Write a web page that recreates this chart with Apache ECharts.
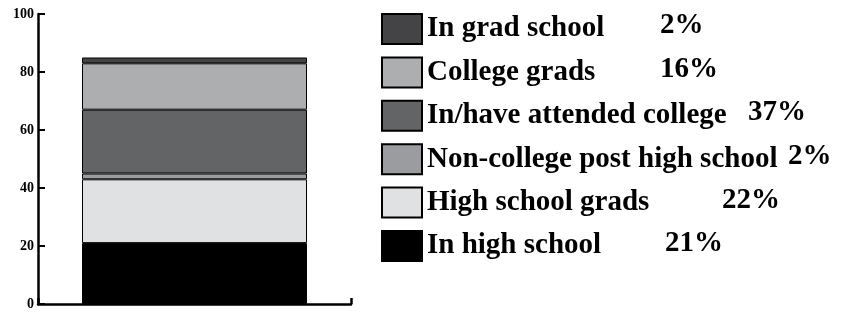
<!DOCTYPE html>
<html>
<head>
<meta charset="utf-8">
<script src="https://cdn.jsdelivr.net/npm/echarts@6/dist/echarts.min.js"></script>
<style>
  html, body { margin: 0; padding: 0; background: #fff; }
  #chart { width: 843px; height: 312px; }
</style>
</head>
<body>
<div id="chart"></div>
<script>
// stack order, bottom to top
const groups = ["In high school", "High school grads", "Non-college post high school",
  "In/have attended college", "College grads", "In grad school"];
const barValues = [21, 22, 2, 22, 16, 2];
// percentages printed next to the legend (as in the original, not the bar heights)
const legendPct = [21, 22, 2, 37, 16, 2];
const fills = ["#000000", "#e0e1e3", "#9b9c9f", "#636466", "#adaeb0", "#444446"];
const yTicks = [0, 20, 40, 60, 80, 100];

const FONT = "'Liberation Serif', 'Times New Roman', Times, serif";

let chart = echarts.init(document.getElementById("chart"));

// x of each percent text, legend order (top to bottom)
const pctX = [660, 660, 748, 788, 722, 665];
const rowTop = 13, rowStep = 43.7, rowH = 30;

let legendOrder = groups.slice().reverse();
let pctOrder = legendPct.slice().reverse();

let option = {
  animation: false,
  grid: { left: 38, right: 492, top: 14, bottom: 8 },
  xAxis: {
    type: "category",
    data: ["all"],
    axisLine: { lineStyle: { color: "#000", width: 2.5 } },
    axisTick: { show: true, interval: 0, inside: true, length: 6, lineStyle: { color: "#000", width: 2.5 } },
    axisLabel: { show: false }
  },
  yAxis: {
    type: "value",
    min: yTicks[0],
    max: yTicks[yTicks.length - 1],
    interval: 20,
    axisLine: { show: true, lineStyle: { color: "#000", width: 2.5 } },
    axisTick: { show: true, inside: true, length: 7, lineStyle: { color: "#000", width: 2 } },
    splitLine: { show: false },
    axisLabel: { color: "#000", fontFamily: FONT, fontWeight: "bold", fontSize: 14, margin: 4 }
  },
  legend: {
    orient: "vertical",
    left: 381,
    top: rowTop,
    padding: 0,
    itemWidth: 40,
    itemHeight: rowH,
    // text box is ~32px tall, so the gap is trimmed to keep a 43.7px row pitch
    itemGap: rowStep - 32.3,
    icon: "rect",
    data: legendOrder,
    selectedMode: false,
    textStyle: { color: "#000", fontFamily: FONT, fontWeight: "bold", fontSize: 29 }
  },
  graphic: pctOrder.map((p, i) => ({
    type: "text",
    left: pctX[i],
    top: rowTop + i * rowStep + rowH / 2 - 17,
    style: { text: p + "%", fill: "#000", font: "bold 29px " + FONT }
  })),
  series: groups.map((g, i) => ({
    name: g,
    type: "bar",
    stack: "total",
    barWidth: 225,
    data: [barValues[i]],
    itemStyle: { color: fills[i], borderColor: "#000", borderWidth: 1 }
  }))
};

chart.setOption(option);
</script>
</body>
</html>
